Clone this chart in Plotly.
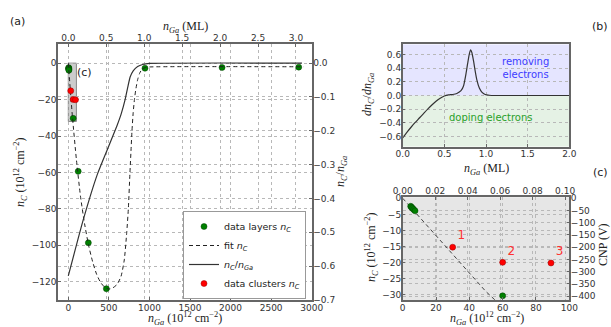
import plotly.graph_objects as go

W, H = 611, 327

# ---------------- data ----------------
# panel (a)/(c): measured layers and clusters (n_Ga in 1e12 cm^-2, n_C in 1e12 cm^-2)
layers_x = [4.8, 5.3, 5.9, 6.6, 7.4, 60, 122, 247, 469, 945, 1895, 2840]
layers_y = [-2.5, -2.8, -3.1, -3.5, -3.9, -30.3, -59.4, -98.6, -123.8, -2.8, -2.4, -2.2]
clusters_x = [30, 60, 89]
clusters_y = [-15.2, -19.9, -20.1]
cluster_labels = ["1", "2", "3"]

# fit n_C
fit_x = [0, 50, 100, 150, 200, 250, 300, 350, 400, 450, 500, 550, 600, 650, 690,
         720, 740, 760, 775, 785, 800, 815, 830, 855, 880, 910, 950, 1000, 2900]
fit_y = [0, -29, -53, -73, -88, -100, -109, -116, -120.5, -123, -124, -123.3, -121.5,
         -117, -108, -93, -80, -60, -46, -37, -27, -20, -15, -9, -5.5, -3.3, -2.4, -2.1, -2.0]

# ratio n_C / n_Ga (solid curve, right axis)
ratio_x = [0, 183, 359, 509, 600, 652, 700, 733, 762, 802, 855, 916, 1000, 2880]
ratio_y = [-0.629, -0.464, -0.328, -0.239, -0.185, -0.150, -0.108, -0.071, -0.041,
           -0.022, -0.010, -0.004, -0.001, 0.0]

# panel (b): dn_C/dn_Ga vs n_Ga (ML)
deriv_x = [0, 0.05, 0.1, 0.15, 0.2, 0.25, 0.3, 0.35, 0.4, 0.45, 0.5, 0.55, 0.6, 0.65,
           0.7, 0.73, 0.76, 0.78, 0.80, 0.815, 0.83, 0.85, 0.87, 0.89, 0.92, 0.95,
           0.99, 1.04, 1.1, 1.2, 1.4, 2.0]
deriv_y = [-0.62, -0.54, -0.465, -0.395, -0.33, -0.265, -0.2, -0.14, -0.085, -0.04,
           -0.008, 0.008, 0.015, 0.03, 0.07, 0.14, 0.32, 0.47, 0.61, 0.67, 0.63, 0.51,
           0.36, 0.23, 0.11, 0.05, 0.015, 0.004, 0.0, 0.0, 0.0, 0.0]

# tick values
a_x_ticks = [0, 500, 1000, 1500, 2000, 2500, 3000]
a_top_ticks = [0.0, 0.5, 1.0, 1.5, 2.0, 2.5, 3.0]
a_y_ticks = [0, -20, -40, -60, -80, -100, -120]
a_y2_ticks = [0.0, -0.1, -0.2, -0.3, -0.4, -0.5, -0.6, -0.7]
b_x_ticks = [0.0, 0.5, 1.0, 1.5, 2.0]
b_y_ticks = [-0.6, -0.4, -0.2, 0.0, 0.2, 0.4, 0.6]
c_x_ticks = [0, 20, 40, 60, 80, 100]
c_top_ticks = [0.00, 0.02, 0.04, 0.06, 0.08, 0.10]
c_y_ticks = [0, -5, -10, -15, -20, -25, -30]
c_y2_ticks = [0, -50, -100, -150, -200, -250, -300, -350, -400]

# ---------------- geometry helpers (window pixels -> paper) ----------------
def px(x):
    return x / W

def py(y):
    return 1 - y / H

A_X = [px(58), px(311.7)]
A_Y = [py(300), py(44)]
B_X = [px(402.7), px(569.3)]
B_Y = [py(146.7), py(44.3)]
C_X = [px(402.7), px(569.3)]
C_Y = [py(300), py(197.3)]

GREEN = "#008000"
RED = "#ff0000"
TICKFONT = dict(family="DejaVu Sans", size=9, color="#333")
GRID = dict(showgrid=True, gridcolor="#b8b8b8", griddash="dot", gridwidth=1)
LINE = dict(showline=True, linecolor="#666", linewidth=1.5, zeroline=False,
            ticks="inside", ticklen=3, tickcolor="#666", tickfont=TICKFONT,
            ticklabelstandoff=-2, automargin=False)

fig = go.Figure()

# ---- panel (a) ----
fig.add_trace(go.Scatter(x=layers_x, y=layers_y, mode="markers", xaxis="x", yaxis="y",
                         marker=dict(color=GREEN, size=6, line=dict(color="#004000", width=0.5)),
                         name="data layers <i>n<sub>C</sub></i>"))
fig.add_trace(go.Scatter(x=fit_x, y=fit_y, mode="lines", xaxis="x", yaxis="y",
                         line=dict(color="#222", width=1, dash="4px,3px", shape="spline", smoothing=0.6),
                         name="fit <i>n<sub>C</sub></i>"))
fig.add_trace(go.Scatter(x=ratio_x, y=ratio_y, mode="lines", xaxis="x", yaxis="y2",
                         line=dict(color="#333", width=1.2, shape="spline", smoothing=0.5),
                         name="<i>n<sub>C</sub></i>/<i>n<sub>Ga</sub></i>"))
fig.add_trace(go.Scatter(x=clusters_x, y=clusters_y, mode="markers", xaxis="x", yaxis="y",
                         marker=dict(color=RED, size=6, line=dict(color="#900", width=0.5)),
                         name="data clusters <i>n<sub>C</sub></i>"))
# empty trace so the top (ML) axis of (a) is rendered
fig.add_trace(go.Scatter(x=[], y=[], xaxis="x2", yaxis="y", showlegend=False, hoverinfo="skip"))

# ---- panel (b) ----
fig.add_trace(go.Scatter(x=deriv_x, y=deriv_y, mode="lines", xaxis="x3", yaxis="y3",
                         line=dict(color="#333", width=1.2, shape="spline", smoothing=0.6),
                         showlegend=False))

# ---- panel (c) ----
fig.add_trace(go.Scatter(x=fit_x, y=fit_y, mode="lines", xaxis="x4", yaxis="y4",
                         line=dict(color="#444", width=1, dash="4px,3px"),
                         showlegend=False))
fig.add_trace(go.Scatter(x=layers_x, y=layers_y, mode="markers", xaxis="x4", yaxis="y4",
                         marker=dict(color=GREEN, size=6, line=dict(color="#004000", width=0.5)),
                         showlegend=False))
fig.add_trace(go.Scatter(x=clusters_x, y=clusters_y, mode="markers+text", xaxis="x4", yaxis="y4",
                         marker=dict(color=RED, size=6, line=dict(color="#900", width=0.5)),
                         text=cluster_labels, textposition="top right",
                         textfont=dict(family="DejaVu Sans", size=12, color="#ff3030"),
                         showlegend=False))
# empty trace so the top (ML) and right (CNP) axes of (c) are rendered
fig.add_trace(go.Scatter(x=[], y=[], xaxis="x5", yaxis="y5", showlegend=False, hoverinfo="skip"))

layout = dict(
    width=W, height=H, autosize=False,
    margin=dict(l=0, r=0, t=0, b=0, pad=0, autoexpand=False),
    paper_bgcolor="white", plot_bgcolor="white",
    # (a)
    xaxis=dict(domain=A_X, anchor="y", range=[-127, 3000], tickvals=a_x_ticks,
               mirror=True, **LINE, **GRID),
    yaxis=dict(domain=A_Y, anchor="x", range=[-130, 10.5], tickvals=a_y_ticks,
               mirror=True, **LINE, **GRID),
    xaxis2=dict(overlaying="x", anchor="y", side="top", range=[-0.136, 3.207],
                tickvals=a_top_ticks, tickformat=".1f", **LINE, **GRID),
    yaxis2=dict(overlaying="y", anchor="x", side="right", range=[-0.7, 0.0565],
                tickvals=a_y2_ticks, tickformat=".1f", **LINE, **GRID),
    # (b)
    xaxis3=dict(domain=B_X, anchor="y3", range=[0, 2], tickvals=b_x_ticks, tickformat=".1f",
                mirror=True, **LINE, **GRID),
    yaxis3=dict(domain=B_Y, anchor="x3", range=[-0.75, 0.75], tickvals=b_y_ticks, tickformat=".1f",
                mirror=True, **LINE, **GRID),
    # (c)
    xaxis4=dict(domain=C_X, anchor="y4", range=[0, 100], tickvals=c_x_ticks,
                mirror=True, **LINE, **GRID),
    yaxis4=dict(domain=C_Y, anchor="x4", range=[-31.6, 0.3], tickvals=c_y_ticks,
                mirror=True, **LINE, **GRID),
    xaxis5=dict(overlaying="x4", anchor="y5", side="top", range=[0, 0.1026],
                tickvals=c_top_ticks, tickformat=".2f", **LINE, **GRID),
    yaxis5=dict(overlaying="y4", anchor="x5", side="right", range=[-416, 4],
                tickvals=c_y2_ticks, **LINE, **GRID),
    legend=dict(x=px(306), y=py(299), xanchor="right", yanchor="bottom",
                bgcolor="white", bordercolor="#999", borderwidth=1,
                font=dict(family="DejaVu Sans", size=9.5, color="#222"),
                itemwidth=30, tracegroupgap=0),
    showlegend=True,
)
fig.update_layout(**layout)

# background shapes
fig.add_shape(type="rect", xref="x", yref="y", x0=0, x1=100, y0=-32, y1=0,
              fillcolor="rgba(128,128,128,0.4)", line=dict(color="#888", width=1), layer="below")
fig.add_shape(type="rect", xref="x3", yref="y3", x0=0, x1=2, y0=0, y1=0.75,
              fillcolor="rgba(0,0,255,0.1)", line=dict(width=0), layer="below")
fig.add_shape(type="rect", xref="x3", yref="y3", x0=0, x1=2, y0=-0.75, y1=0,
              fillcolor="rgba(0,128,0,0.1)", line=dict(width=0), layer="below")
fig.add_shape(type="rect", xref="x4 domain", yref="y4 domain", x0=0, x1=1, y0=0, y1=1,
              fillcolor="rgba(128,128,128,0.2)", line=dict(width=0), layer="below")

SERIF = dict(family="Liberation Serif", size=12, color="#222")
SANS11 = dict(family="DejaVu Sans", size=11, color="#222")

def ann(x, y, text, font, angle=0):
    fig.add_annotation(x=px(x), y=py(y), xref="paper", yref="paper", text=text,
                       showarrow=False, font=font, textangle=angle,
                       xanchor="center", yanchor="middle")

nC = "<i>n<sub>C</sub></i>"
nGa = "<i>n<sub>Ga</sub></i>"
dens = " (10<sup>12</sup> cm<sup>−2</sup>)"

ann(20, 172, nC + dens, SERIF, -90)
ann(185, 318, nGa + dens, SERIF)
ann(185, 27, nGa + " (ML)", SERIF)
ann(341, 172, nC + "/" + nGa, SERIF, -90)
ann(368, 95, "<i>dn<sub>C</sub></i>/<i>dn<sub>Ga</sub></i>", SERIF, -90)
ann(487, 169, nGa + " (ML)", SERIF)
ann(372, 247, nC + dens, SERIF, -90)
ann(603, 245, "CNP (V)", SERIF, -90)
ann(487, 318, nGa + dens, SERIF)

ann(17, 22, "(a)", SANS11)
ann(600, 26, "(b)", SANS11)
ann(600, 172, "(c)", SANS11)
ann(84, 72, "(c)", SANS11)

ann(525, 68, "removing<br>electrons", dict(family="DejaVu Sans", size=10, color="rgb(60,60,255)"))
ann(491, 117, "doping electrons", dict(family="DejaVu Sans", size=10, color="rgb(40,160,40)"))

# remove the page's default 8px body margin so the 611x327 figure fills the window
fig.write_html("out.html",
               config={"displayModeBar": False},
               post_script="document.body.style.margin='0px';document.body.style.overflow='hidden';")
